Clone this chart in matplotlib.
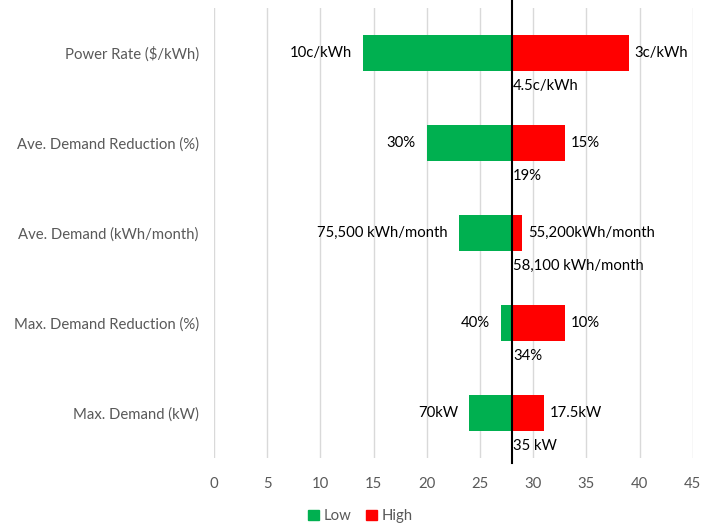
import matplotlib.pyplot as plt
from matplotlib.patches import Patch

categories = ["Power Rate ($/kWh)", "Ave. Demand Reduction (%)", "Ave. Demand (kWh/month)",
              "Max. Demand Reduction (%)", "Max. Demand (kW)"]
base = 28
low_vals = [14, 20, 23, 27, 24]
high_vals = [39, 33, 29, 33, 31]
low_labels = ["10c/kWh", "30%", "75,500 kWh/month", "40%", "70kW"]
high_labels = ["3c/kWh", "15%", "55,200kWh/month", "10%", "17.5kW"]
base_labels = ["4.5c/kWh", "19%", "58,100 kWh/month", "34%", "35 kW"]
xticks = [0, 5, 10, 15, 20, 25, 30, 35, 40, 45]

green = "#00B050"
red = "#FF0000"
grey_txt = "#595959"
fs = 10.7

plt.rcParams['font.family'] = ['Lato', 'DejaVu Sans']

fig = plt.figure(figsize=(7.01, 5.24), dpi=100)
ax = fig.add_axes([214 / 701, 1 - 458 / 524, (692.7 - 214) / 701, 450 / 524])

y = list(range(len(categories)))
low_w = [base - v for v in low_vals]
high_w = [v - base for v in high_vals]
ax.barh(y, low_w, left=low_vals, height=0.4, color=green, zorder=2)
ax.barh(y, high_w, left=base, height=0.4, color=red, zorder=2)

for i in y:
    ax.annotate(low_labels[i], (low_vals[i], i), xytext=(-8, 0), textcoords="offset points",
                ha="right", va="center", fontsize=fs, color="black")
    ax.annotate(high_labels[i], (high_vals[i], i), xytext=(4, 0), textcoords="offset points",
                ha="left", va="center", fontsize=fs, color="black")
    ax.annotate(base_labels[i], (base, i), xytext=(1, -24), textcoords="offset points",
                ha="left", va="center", fontsize=fs, color="black")

ax.axvline(base, ymin=-0.012, ymax=1.02, color="black", lw=1.5, zorder=3, clip_on=False)

ax.set_xlim(0, 45)
ax.set_ylim(4.5, -0.5)
ax.set_xticks(xticks)
ax.set_yticks(y)
ax.set_yticklabels(categories)
ax.tick_params(axis="both", length=0, labelsize=fs, labelcolor=grey_txt)
ax.tick_params(axis="x", pad=14)
ax.tick_params(axis="y", pad=11)
ax.grid(axis="x", color="#D9D9D9", lw=1, zorder=0)
for s in ax.spines.values():
    s.set_visible(False)

handles = [Patch(color=green, label="Low"), Patch(color=red, label="High")]
fig.legend(handles=handles, loc="center", bbox_to_anchor=(0.514, 0.015), ncol=2, frameon=False,
           fontsize=fs, labelcolor=grey_txt, handlelength=0.75, handleheight=0.75,
           handletextpad=0.3, columnspacing=1.0)

fig.savefig("out.png", dpi=100)
